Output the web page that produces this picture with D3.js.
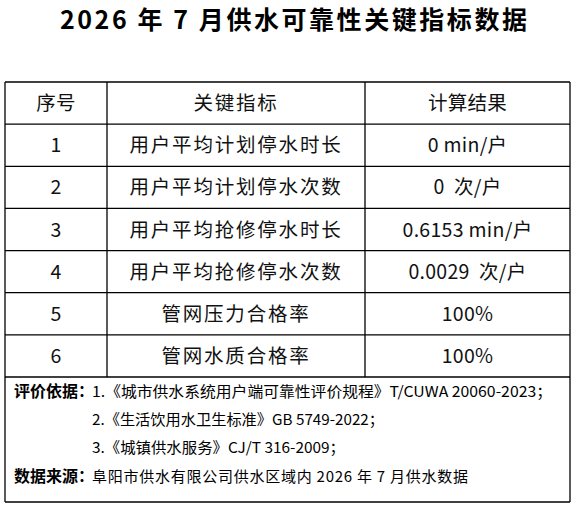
<!DOCTYPE html>
<html><head><meta charset="utf-8">
<script src="https://cdn.jsdelivr.net/npm/d3@7"></script>
<style>body{margin:0;background:#fff} text{white-space:pre}</style>
</head><body>
<svg id="chart" width="574" height="505"></svg>
<script>
// ---------------- Дані ----------------
const title = "2026 年 7 月供水可靠性关键指标数据";
const headers = ["序号", "关键指标", "计算结果"];
const seq = ["1", "2", "3", "4", "5", "6"];
const indicators = ["用户平均计划停水时长", "用户平均计划停水次数", "用户平均抢修停水时长",
  "用户平均抢修停水次数", "管网压力合格率", "管网水质合格率"];
const results = ["0 min/户", "0  次/户", "0.6153 min/户", "0.0029  次/户", "100%", "100%"];
const basisLabel = "评价依据：";
const basis = ["1.《城市供水系统用户端可靠性评价规程》T/CUWA 20060-2023；",
  "2.《生活饮用水卫生标准》GB 5749-2022；",
  "3.《城镇供水服务》CJ/T 316-2009；"];
const sourceLabel = "数据来源：";
const source = "阜阳市供水有限公司供水区域内 2026 年 7 月供水数据";

const svg = d3.select("#chart");
const font = "'Noto Sans CJK SC', sans-serif";

svg.append("text").attr("x", 60).attr("y", 29)
  .attr("font-family", font).attr("font-weight", "bold").attr("font-size", 25)
  .attr("textLength", 467).text(title);

const colX = [5, 107, 365, 570];
const rows = [headers].concat(seq.map((s, i) => [s, indicators[i], results[i]]));
const y = d3.scaleBand().domain(d3.range(rows.length)).range([82, 377]);

const g = svg.append("g");
rows.forEach((r, i) => {
  r.forEach((t, j) => {
    g.append("text").attr("x", (colX[j] + colX[j + 1]) / 2)
      .attr("y", y(i) + y.bandwidth() / 2).attr("dy", "0.36em")
      .attr("text-anchor", "middle").attr("font-family", font)
      .attr("font-size", 19.5).attr("letter-spacing", j == 1 ? 1.8 : 0.3)
      .attr("fill", "#111").text(t);
  });
});

const line = (x1, y1, x2, y2) => g.append("line").attr("x1", x1).attr("y1", y1)
  .attr("x2", x2).attr("y2", y2).attr("stroke", "#000").attr("stroke-width", 1.3);
d3.range(rows.length + 1).forEach(i => line(5, 82 + i * y.step(), 570, 82 + i * y.step()));
colX.forEach(x => line(x, 82, x, 377));
line(5, 377, 5, 502); line(570, 377, 570, 502); line(5, 502, 570, 502);

// footer
const fy = [397, 425, 453, 482];
g.append("text").attr("x", 14).attr("y", fy[0]).attr("font-family", font)
  .attr("font-weight", "bold").attr("font-size", 16).text(basisLabel);
const bl = [460, 292, 253];
basis.forEach((b, i) => g.append("text").attr("x", 92).attr("y", fy[i])
  .attr("font-family", font).attr("font-size", 15).attr("textLength", bl[i])
  .attr("lengthAdjust", "spacingAndGlyphs").text(b));
g.append("text").attr("x", 14).attr("y", fy[3]).attr("font-family", font)
  .attr("font-weight", "bold").attr("font-size", 16).text(sourceLabel);
g.append("text").attr("x", 92).attr("y", fy[3]).attr("font-family", font)
  .attr("font-size", 15).attr("textLength", 376).text(source);
</script>
</body></html>
